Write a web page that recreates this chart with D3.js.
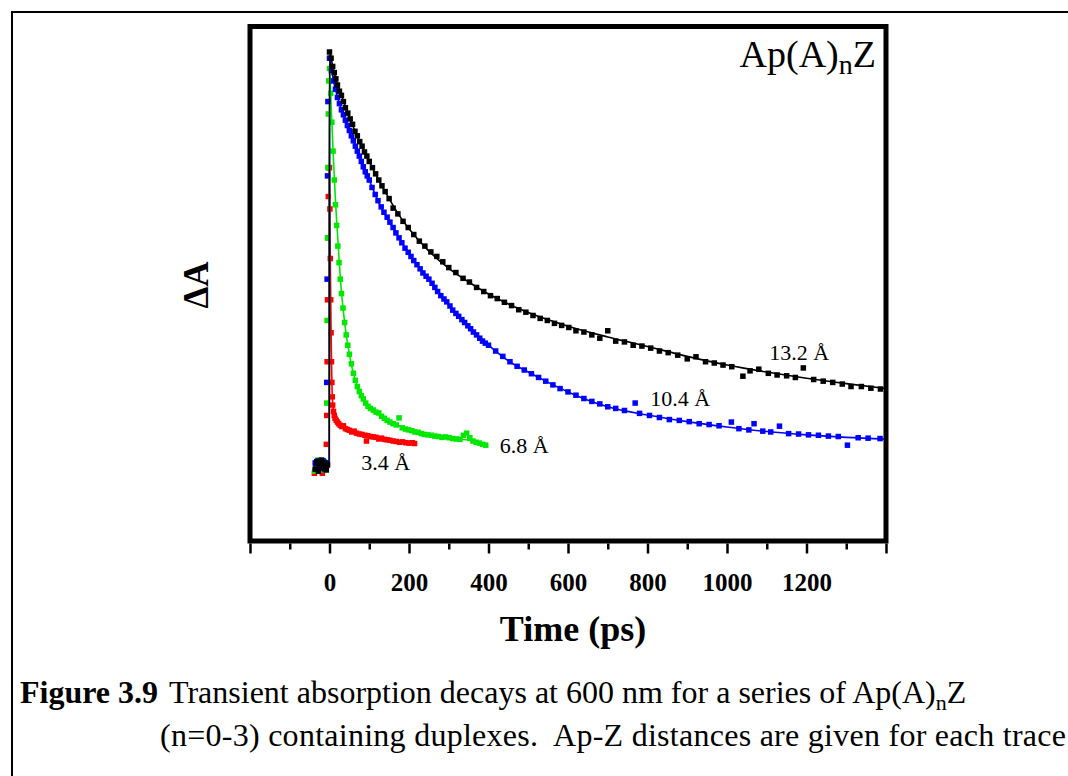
<!DOCTYPE html>
<html>
<head>
<meta charset="utf-8">
<script src="https://cdn.jsdelivr.net/npm/d3@7"></script>
<style>
  body { margin: 0; background: #fff; }
  svg text { font-family: "Liberation Serif", "Times New Roman", serif; fill: #000; }
</style>
</head>
<body>
<div id="chart"></div>
<script>
// ---- data (time in ps, normalised ΔA) ----
const majorTicks = [-200, 0, 200, 400, 600, 800, 1000, 1200, 1400];
const minorTicks = [-100, 100, 300, 500, 700, 900, 1100, 1300];
const labelledTicks = [0, 200, 400, 600, 800, 1000, 1200];

const blackPts = [[-36,-0.01],[-32,0.008],[-28,-0.015],[-24,0.0],[-20,0.012],[-16,-0.008],[-12,0.005],[-8,-0.012],[-5,0.0],
  [0,1.0],[4,0.985],[8,0.965],[12,0.95],[16,0.935],[20,0.92],[25,0.905],[30,0.895],[35,0.88],[40,0.865],[46,0.852],[52,0.838],
  [58,0.825],[64,0.808],[70,0.797],[76,0.783],[82,0.772],[88,0.758],[94,0.748],[100,0.735],[108,0.72],[116,0.705],[124,0.69],
  [132,0.676],[140,0.662],[150,0.645],[160,0.622],[172,0.608],[185,0.59],[198,0.575],[212,0.558],[226,0.542],[240,0.53],
  [255,0.516],[270,0.505],[285,0.492],[300,0.478],[318,0.466],[336,0.452],[352,0.443],[370,0.43],[388,0.42],[405,0.41],
  [422,0.403],[440,0.394],[458,0.386],[476,0.376],[494,0.37],[512,0.362],[530,0.355],[548,0.35],[566,0.343],[584,0.338],
  [602,0.333],[620,0.325],[640,0.322],[660,0.315],[680,0.307],[700,0.325],[720,0.3],[742,0.298],[764,0.29],[786,0.288],
  [808,0.283],[830,0.276],[852,0.272],[876,0.266],[900,0.257],[922,0.262],[946,0.25],[968,0.247],[990,0.242],[1012,0.238],
  [1040,0.215],[1058,0.228],[1080,0.232],[1104,0.222],[1126,0.218],[1150,0.216],[1172,0.212],[1192,0.235],[1218,0.207],
  [1242,0.203],[1266,0.2],[1290,0.196],[1312,0.19],[1338,0.19],[1362,0.186],[1386,0.184]];

const bluePts = [[-36,0.005],[-32,-0.01],[-28,0.01],[-24,-0.005],[-20,0.0],[-16,0.01],[-12,-0.01],[-8,0.005],
  [-7,0.2],[-6,0.45],[-5,0.7],[-4,0.88],
  [0,0.985],[5,0.955],[10,0.93],[15,0.91],[20,0.89],[25,0.875],[30,0.86],[35,0.848],[40,0.835],[45,0.822],[50,0.81],
  [55,0.797],[60,0.785],[65,0.772],[70,0.76],[75,0.748],[80,0.735],[85,0.722],[90,0.71],[95,0.7],[100,0.69],[107,0.672],
  [115,0.655],[122,0.64],[130,0.625],[137,0.612],[145,0.6],[152,0.588],[160,0.575],[167,0.562],[175,0.55],[182,0.538],
  [190,0.525],[198,0.515],[205,0.505],[212,0.495],[220,0.485],[228,0.475],[235,0.465],[243,0.457],[250,0.45],[258,0.44],
  [265,0.43],[272,0.42],[280,0.41],[288,0.402],[295,0.395],[303,0.385],[310,0.375],[318,0.367],[325,0.36],[333,0.352],
  [340,0.345],[348,0.337],[355,0.33],[362,0.322],[370,0.315],[378,0.307],[385,0.3],[392,0.295],[400,0.29],[418,0.276],
  [436,0.263],[454,0.25],[472,0.239],[490,0.23],[508,0.221],[526,0.212],[544,0.203],[562,0.194],[580,0.185],[600,0.177],
  [620,0.169],[640,0.161],[660,0.154],[680,0.148],[700,0.141],[720,0.137],[742,0.132],[769,0.15],[780,0.125],[805,0.12],
  [830,0.115],[855,0.11],[880,0.108],[905,0.105],[930,0.1],[955,0.098],[980,0.095],[1011,0.104],[1030,0.088],[1055,0.085],
  [1068,0.1],[1090,0.082],[1110,0.08],[1132,0.094],[1155,0.076],[1180,0.075],[1205,0.073],[1230,0.072],[1255,0.07],
  [1280,0.069],[1303,0.048],[1330,0.066],[1355,0.065],[1385,0.064]];

const greenPts = [[-37,-0.015],[-33,0.0],[-29,0.012],[-25,-0.008],[-21,0.005],[-17,-0.012],[-13,0.008],[-9,0.0],
  [-7,0.15],[-6,0.35],[-5,0.55],[-4,0.72],[-3,0.85],[-2,0.93],
  [0,0.96],[3,0.9],[6,0.83],[9,0.76],[12,0.69],[15,0.63],[18,0.58],[21,0.53],[24,0.49],[27,0.45],[30,0.415],[34,0.38],
  [38,0.345],[42,0.315],[46,0.29],[50,0.268],[55,0.245],[60,0.222],[65,0.205],[70,0.19],[75,0.178],[80,0.168],[85,0.16],
  [91,0.15],[97,0.142],[103,0.137],[110,0.133],[117,0.128],[124,0.126],[131,0.118],[138,0.113],[145,0.108],[152,0.104],
  [160,0.1],[168,0.097],[175,0.114],[183,0.09],[191,0.087],[199,0.085],[207,0.083],[215,0.08],[223,0.079],[231,0.076],
  [239,0.074],[247,0.073],[256,0.072],[265,0.07],[274,0.069],[283,0.067],[292,0.068],[301,0.066],[310,0.064],[319,0.063],
  [328,0.062],[337,0.072],[345,0.077],[353,0.066],[361,0.058],[369,0.055],[377,0.053],[385,0.05],[393,0.048]];

const redPts = [[-38,-0.02],[-34,-0.005],[-30,0.01],[-26,-0.012],[-22,0.003],[-18,-0.02],[-14,0.0],[-10,-0.01],
  [-8,0.05],[-7,0.12],[-6,0.25],[-5,0.4],[-4,0.55],[-3,0.65],[-2,0.72],
  [0,0.72],[1,0.62],[2,0.5],[3,0.4],[4,0.32],[5,0.25],[6,0.2],[7,0.165],[8,0.145],[10,0.13],[12,0.12],[14,0.113],
  [17,0.108],[20,0.104],[23,0.1],[27,0.096],[31,0.093],[35,0.095],[40,0.088],[45,0.086],[50,0.084],[56,0.08],[62,0.082],
  [68,0.077],[75,0.075],[82,0.074],[89,0.072],[93,0.058],[96,0.071],[103,0.069],[110,0.068],[117,0.067],[124,0.063],
  [131,0.065],[138,0.062],[145,0.061],[152,0.06],[160,0.058],[168,0.057],[176,0.055],[184,0.056],[192,0.054],[200,0.053],
  [208,0.054],[214,0.052]];

const blackFit = [[-40,0],[-0.3,0],[0,1],[10,0.955],[25,0.91],[50,0.842],[75,0.785],[100,0.735],[125,0.688],[150,0.645],
  [175,0.605],[200,0.572],[250,0.518],[300,0.476],[350,0.443],[400,0.414],[450,0.39],[500,0.369],[600,0.336],[700,0.31],
  [800,0.287],[900,0.263],[1000,0.242],[1100,0.225],[1200,0.21],[1300,0.197],[1400,0.185]];
const blueFit = [[-40,0],[-0.3,0],[0,0.985],[10,0.93],[25,0.875],[50,0.81],[75,0.748],[100,0.69],[125,0.633],[150,0.59],
  [175,0.55],[200,0.512],[250,0.45],[300,0.388],[350,0.335],[400,0.29],[450,0.252],[500,0.225],[550,0.2],[600,0.177],
  [700,0.141],[800,0.121],[900,0.105],[1000,0.092],[1100,0.081],[1200,0.073],[1300,0.067],[1400,0.063]];
const greenFit = [[-40,0],[-0.3,0],[0,0.96],[5,0.85],[10,0.74],[15,0.64],[20,0.56],[30,0.42],[40,0.33],[50,0.268],
  [60,0.222],[70,0.19],[85,0.158],[100,0.14],[125,0.122],[150,0.105],[175,0.095],[200,0.085],[250,0.072],[300,0.066],
  [350,0.06],[396,0.049]];
const redFit = [[-40,0],[-0.3,0],[0,0.72],[2,0.5],[4,0.32],[6,0.2],[8,0.15],[12,0.12],[20,0.104],[35,0.092],[50,0.084],
  [75,0.076],[100,0.07],[125,0.065],[150,0.06],[180,0.056],[214,0.052]];

const traceNames = ["3.4 Å", "6.8 Å", "10.4 Å", "13.2 Å"];
const traceColors = ["#ff0000", "#00e800", "#0000ff", "#000000"];

// ---- drawing ----
const W = 1068, H = 776;
const svg = d3.select("#chart").append("svg")
  .attr("width", W).attr("height", H);

// outer figure frame (runs off the page on the right and bottom)
svg.append("rect")
  .attr("x", 12).attr("y", 12).attr("width", 1100).attr("height", 800)
  .attr("fill", "none").attr("stroke", "#000").attr("stroke-width", 2);

const pLeft = 250, pRight = 886, pTop = 26.5, pBottom = 541;
const x = d3.scaleLinear().domain([-200, 1400]).range([pLeft, pRight]);
const y = d3.scaleLinear().domain([0, 1]).range([465, 52]);

svg.append("clipPath").attr("id", "clip")
  .append("rect").attr("x", pLeft).attr("y", pTop).attr("width", pRight - pLeft).attr("height", pBottom - pTop);

const plot = svg.append("g").attr("clip-path", "url(#clip)");

const traces = [
  { pts: redPts, fit: redFit },
  { pts: greenPts, fit: greenFit },
  { pts: bluePts, fit: blueFit },
  { pts: blackPts, fit: blackFit }
];

const line = d3.line()
  .x(d => x(d[0]))
  .y(d => y(d[1]))
  .curve(d3.curveMonotoneX);

const ms = 5.5;
traces.forEach((tr, i) => {
  const g = plot.append("g");
  g.selectAll("rect")
    .data(tr.pts)
    .join("rect")
    .attr("x", d => x(d[0]) - ms / 2)
    .attr("y", d => y(d[1]) - ms / 2)
    .attr("width", ms).attr("height", ms)
    .attr("fill", traceColors[i]);
  g.append("path")
    .datum(tr.fit)
    .attr("d", line)
    .attr("fill", "none")
    .attr("stroke", traceColors[i])
    .attr("stroke-width", 1.6);
});

// plot frame
svg.append("rect")
  .attr("x", pLeft).attr("y", pTop).attr("width", pRight - pLeft).attr("height", pBottom - pTop)
  .attr("fill", "none").attr("stroke", "#000").attr("stroke-width", 5);

// x axis: major + minor ticks
const axisY = pBottom + 2.5;
const majorAxis = svg.append("g")
  .attr("transform", `translate(0,${axisY})`)
  .call(d3.axisBottom(x).tickValues(majorTicks).tickSize(10).tickPadding(20)
    .tickFormat(d => labelledTicks.includes(d) ? d3.format("d")(d) : ""));
const minorAxis = svg.append("g")
  .attr("transform", `translate(0,${axisY})`)
  .call(d3.axisBottom(x).tickValues(minorTicks).tickSize(6).tickFormat(""));
[majorAxis, minorAxis].forEach(a => {
  a.select(".domain").remove();
  a.selectAll(".tick line").attr("stroke", "#000").attr("stroke-width", 2.5);
});
majorAxis.selectAll(".tick text")
  .attr("font-family", "Liberation Serif, serif")
  .attr("font-size", 25)
  .attr("font-weight", "bold")
  .attr("fill", "#000");

// axis titles
svg.append("text")
  .attr("x", 573).attr("y", 641)
  .attr("text-anchor", "middle")
  .attr("font-size", 36).attr("font-weight", "bold")
  .text("Time (ps)");

svg.append("text")
  .attr("transform", "translate(208,285) rotate(-90)")
  .attr("text-anchor", "middle")
  .attr("font-size", 35).attr("font-weight", "bold")
  .text("ΔA");

// series title
const ttl = svg.append("text")
  .attr("x", 876).attr("y", 67)
  .attr("text-anchor", "end")
  .attr("font-size", 38);
ttl.append("tspan").text("Ap(A)");
ttl.append("tspan").attr("font-size", 28).attr("dy", 7).text("n");
ttl.append("tspan").attr("dy", -7).text("Z");

// distance labels placed beside each trace (data coords)
const labelAnchors = [[80, -0.013], [428, 0.029], [807, 0.143], [1106, 0.254]];
svg.selectAll(".dist")
  .data(traceNames)
  .join("text")
  .attr("class", "dist")
  .attr("x", (d, i) => x(labelAnchors[i][0]))
  .attr("y", (d, i) => y(labelAnchors[i][1]))
  .attr("font-size", 22)
  .text(d => d);

// caption
const cap1 = svg.append("text").attr("x", 20).attr("y", 703).attr("font-size", 32);
cap1.append("tspan").attr("font-weight", "bold").text("Figure 3.9");
cap1.append("tspan").attr("x", 169).text("Transient absorption decays at 600 nm for a series of Ap(A)");
cap1.append("tspan").attr("font-size", 22).attr("dy", 7).text("n");
cap1.append("tspan").attr("dy", -7).text("Z");

svg.append("text").attr("x", 160).attr("y", 746).attr("font-size", 32)
  .attr("textLength", 906)
  .text("(n=0-3) containing duplexes.  Ap-Z distances are given for each trace")
  .style("white-space", "pre");
</script>
</body>
</html>
